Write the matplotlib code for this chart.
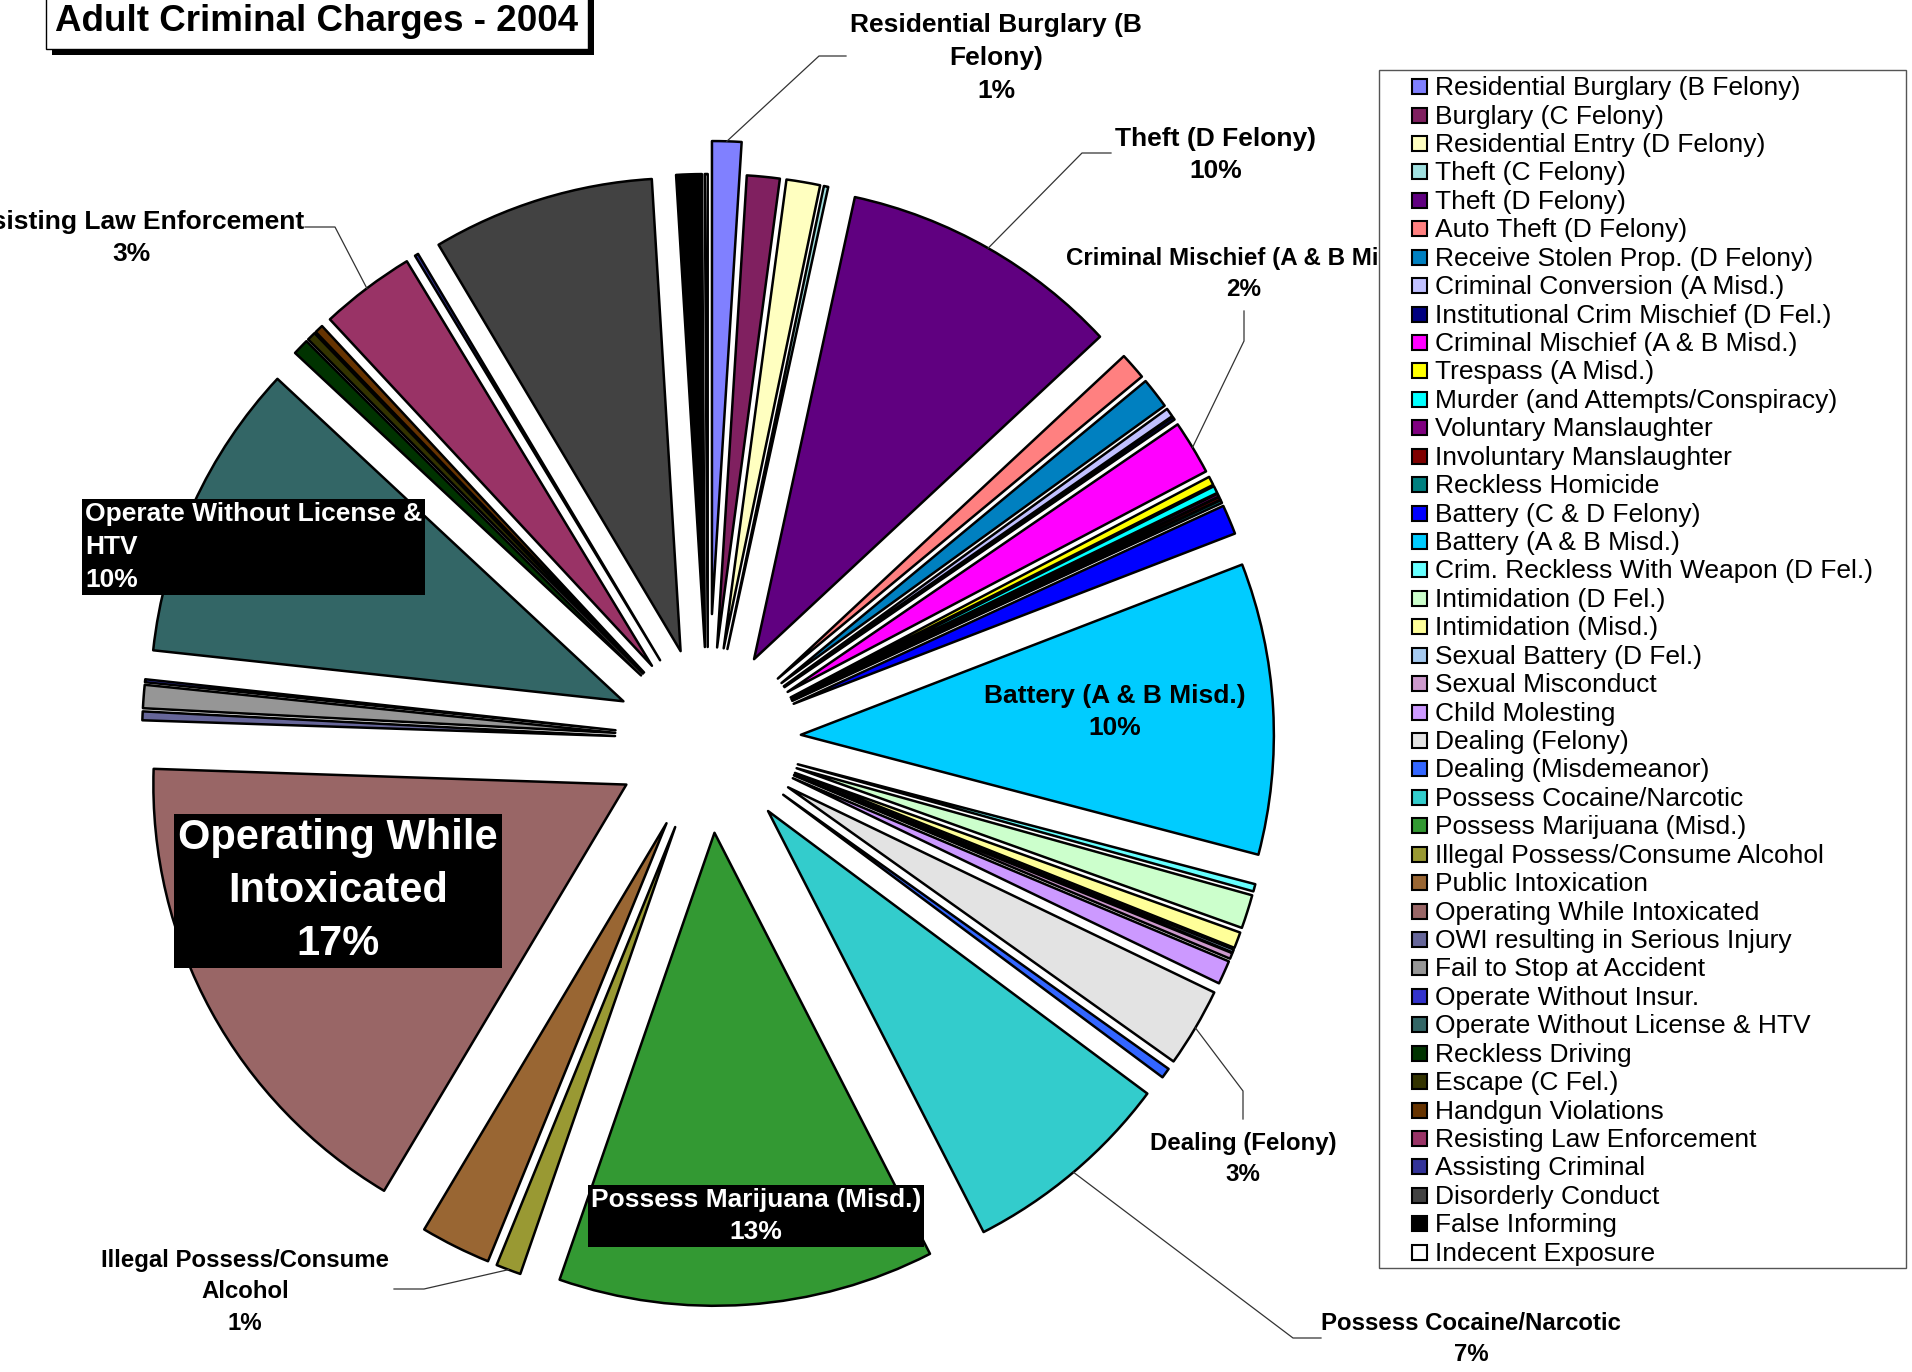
import matplotlib
matplotlib.use("Agg")
import math
import matplotlib.pyplot as plt
from matplotlib.patches import Rectangle

W, H = 1912, 1372

# share of all adult charges, %, clockwise from 12 o'clock
categories = [
    "Residential Burglary (B Felony)", "Burglary (C Felony)", "Residential Entry (D Felony)",
    "Theft (C Felony)", "Theft (D Felony)", "Auto Theft (D Felony)",
    "Receive Stolen Prop. (D Felony)", "Criminal Conversion (A Misd.)",
    "Institutional Crim Mischief (D Fel.)", "Criminal Mischief (A & B Misd.)",
    "Trespass (A Misd.)", "Murder (and Attempts/Conspiracy)", "Voluntary Manslaughter",
    "Involuntary Manslaughter", "Reckless Homicide", "Battery (C & D Felony)",
    "Battery (A & B Misd.)", "Crim. Reckless With Weapon (D Fel.)", "Intimidation (D Fel.)",
    "Intimidation (Misd.)", "Sexual Battery (D Fel.)", "Sexual Misconduct", "Child Molesting",
    "Dealing (Felony)", "Dealing (Misdemeanor)", "Possess Cocaine/Narcotic",
    "Possess Marijuana (Misd.)", "Illegal Possess/Consume Alcohol", "Public Intoxication",
    "Operating While Intoxicated", "OWI resulting in Serious Injury", "Fail to Stop at Accident",
    "Operate Without Insur.", "Operate Without License & HTV", "Reckless Driving",
    "Escape (C Fel.)", "Handgun Violations", "Resisting Law Enforcement", "Assisting Criminal",
    "Disorderly Conduct", "False Informing", "Indecent Exposure",
]
shares = [
    1.0, 1.12, 1.15, 0.15, 9.64, 0.92, 1.05, 0.3, 0.1, 1.85,
    0.3, 0.25, 0.1, 0.1, 0.1, 1.01, 9.94, 0.25, 1.15, 0.55,
    0.1, 0.2, 0.81, 2.7, 0.35, 7.28, 12.84, 0.85, 2.4, 16.97,
    0.3, 0.79, 0.1, 10.22, 0.55, 0.3, 0.29, 3.25, 0.12, 7.58,
    0.87, 0.1,
]
colors = [
    "#8080FF", "#802060", "#FFFFC0", "#A0E0E0", "#600080", "#FF8080", "#0080C0", "#C0C0FF",
    "#000080", "#FF00FF", "#FFFF00", "#00FFFF", "#800080", "#800000", "#008080", "#0000FF",
    "#00CCFF", "#66FFFF", "#CCFFCC", "#FFFF99", "#A6CAF0", "#CC99CC", "#CC99FF", "#E3E3E3",
    "#3366FF", "#33CCCC", "#339933", "#999933", "#996633", "#996666", "#666699", "#969696",
    "#3333CC", "#336666", "#003300", "#333300", "#663300", "#993366", "#333399", "#424242",
    "#000000", "#FFFFFF",
]

FONT = ["Liberation Sans", "DejaVu Sans"]

def Y(y):  # image row -> data y (pixel units, y up)
    return H - y

fig = plt.figure(figsize=(W / 100, H / 100), dpi=100)
ax = fig.add_axes([0, 0, 1, 1])

explode = [126 if c.startswith("Residential Burglary") else 93 for c in categories]
wedges, _ = ax.pie(shares, colors=colors, explode=explode, startangle=90,
                   counterclock=False, radius=473, center=(708, Y(740)),
                   wedgeprops=dict(edgecolor="black", linewidth=1.8, joinstyle="round"))
ax.set_xlim(0, W)
ax.set_ylim(0, H)
ax.set_aspect("equal")
ax.axis("off")

def pct(name):
    return f"{int(shares[categories.index(name)] + 0.5)}%"

def arc_mid(name):
    w = wedges[categories.index(name)]
    t = math.radians((w.theta1 + w.theta2) / 2)
    return w.center[0] + w.r * math.cos(t), w.center[1] + w.r * math.sin(t)

# plain labels: (category, text, x, y of middle line, size, leader start, leader elbow)
plain = [
    ("Residential Burglary (B Felony)", "Residential Burglary (B\nFelony)", 996, 58, 19, (846, 56), (819, 56)),
    ("Theft (D Felony)", "Theft (D Felony)", 1216, 155, 19, (1111, 153), (1082, 153)),
    ("Criminal Mischief (A & B Misd.)", "Criminal Mischief (A & B Misd.)", 1244, 274, 17.4, (1244, 311), (1244, 341)),
    ("Battery (A & B Misd.)", "Battery (A & B Misd.)", 1115, 712, 19, None, None),
    ("Dealing (Felony)", "Dealing (Felony)", 1243, 1159, 17.3, (1243, 1119), (1243, 1091)),
    ("Possess Cocaine/Narcotic", "Possess Cocaine/Narcotic", 1471, 1339, 17.3, (1321, 1338), (1293, 1338)),
    ("Illegal Possess/Consume Alcohol", "Illegal Possess/Consume\nAlcohol", 245, 1292, 17.3, (394, 1289), (424, 1289)),
    ("Resisting Law Enforcement", "Resisting Law Enforcement", 131, 238, 19, (305, 227), (335, 227)),
]
for name, txt, x, y, fs, p0, p1 in plain:
    ax.text(x, Y(y), txt + "\n" + pct(name), ha="center", va="center", fontsize=fs,
            fontweight="bold", family=FONT, linespacing=1.45, zorder=4)
    if p0 is not None:
        ex, ey = arc_mid(name)
        ax.plot([p0[0], p1[0], ex], [Y(p0[1]), Y(p1[1]), ey], color="#333333", lw=0.9, zorder=4)

# labels in black boxes
boxed = [
    ("Possess Marijuana (Misd.)", "Possess Marijuana (Misd.)", 756, 1216, 19, 1.45, "center"),
    ("Operating While Intoxicated", "Operating While\nIntoxicated", 338, 891, 30, 1.42, "center"),
    ("Operate Without License & HTV", "Operate Without License &\nHTV", 85, 547, 19, 1.48, "left"),
]
for name, txt, x, y, fs, ls, ha in boxed:
    ax.text(x, Y(y), txt + "\n" + pct(name), ha=ha, va="center", ma=ha, fontsize=fs,
            fontweight="bold", family=FONT, color="white", linespacing=ls, zorder=4,
            bbox=dict(boxstyle="square,pad=0.1", fc="black", ec="none"))

# title box with drop shadow
ax.add_patch(Rectangle((52, Y(55)), 542, 60, fc="black", ec="none", zorder=5))
ax.add_patch(Rectangle((46, Y(49)), 542, 60, fc="white", ec="black", lw=1.0, zorder=6))
ax.text(317, Y(31), "Adult Criminal Charges - 2004", ha="center", va="baseline",
        fontsize=26.5, fontweight="bold", family=FONT, zorder=7)

# legend
ax.add_patch(Rectangle((1379, Y(1268)), 527, 1198, fc="white", ec="#555555", lw=1.0, zorder=8))
for i, (name, col) in enumerate(zip(categories, colors)):
    yc = 86.6 + i * 28.43
    ax.add_patch(Rectangle((1412, Y(yc) - 7.5), 15, 15, fc=col, ec="black", lw=1.5, zorder=9))
    ax.text(1435, Y(yc) - 8.5, name, ha="left", va="baseline", fontsize=19,
            family=FONT, zorder=9)

fig.savefig("out.png", dpi=100, facecolor="white")
